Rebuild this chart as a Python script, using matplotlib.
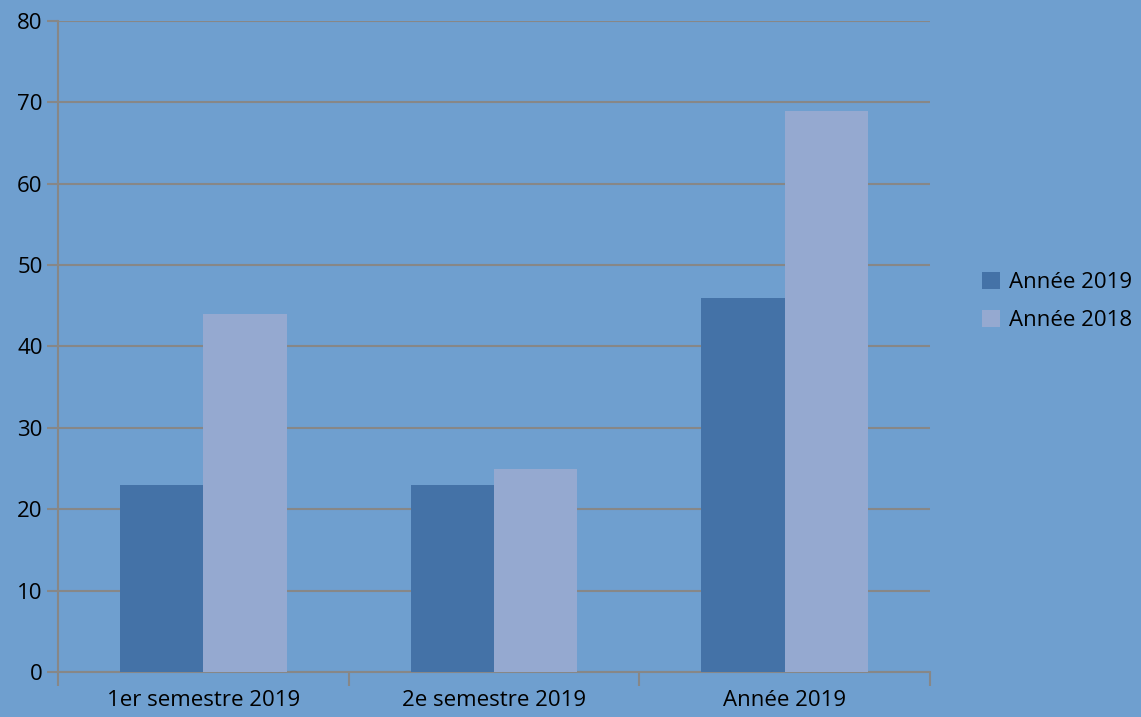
import matplotlib
matplotlib.use("Agg")
import matplotlib.pyplot as plt
import numpy as np

categories = ["1er semestre 2019", "2e semestre 2019", "Année 2019"]
series_names = ["Année 2019", "Année 2018"]
values_2019 = [23, 23, 46]
values_2018 = [44, 25, 69]
yticks = [0, 10, 20, 30, 40, 50, 60, 70, 80]

bg = "#6f9fcf"
c2019 = "#4472a7"
c2018 = "#95a9d0"
grid = "#878787"

plt.rcParams['font.family'] = ['Open Sans', 'DejaVu Sans']
fs = 16

fig = plt.figure(figsize=(11.41, 7.17), dpi=100, facecolor=bg)
ax = fig.add_axes([58/1141, 1-672/717, (930-58)/1141, (672-21)/717])
ax.set_facecolor(bg)

x = np.arange(len(categories))
w = 0.287
ax.bar(x - w/2, values_2019, w, color=c2019, label=series_names[0], zorder=3)
ax.bar(x + w/2, values_2018, w, color=c2018, label=series_names[1], zorder=3)

ax.set_xlim(-0.5, len(categories) - 0.5)
ax.set_ylim(0, 80)
ax.set_yticks(yticks)
ax.set_yticklabels([str(v) for v in yticks], fontsize=fs, color="black")
ax.yaxis.grid(True, color=grid, linewidth=1.5, zorder=0)
ax.set_axisbelow(True)

ax.set_xticks(x)
ax.set_xticklabels(categories, fontsize=fs, color="black")
ax.set_xticks(np.arange(-0.5, len(categories)), minor=True)
ax.tick_params(axis='x', which='major', length=0, pad=13)
ax.tick_params(axis='x', which='minor', length=10, width=1.5, color=grid)
ax.tick_params(axis='y', length=8, width=1.5, color=grid, pad=3)

for s in ["top", "right"]:
    ax.spines[s].set_visible(False)
for s in ["left", "bottom"]:
    ax.spines[s].set_color(grid)
    ax.spines[s].set_linewidth(1.5)

leg = fig.legend(loc="upper left", bbox_to_anchor=(982/1141, 1-272/717),
                 frameon=False, fontsize=fs, handlelength=0.8, handleheight=0.8,
                 handletextpad=0.4, labelspacing=0.76, borderaxespad=0, borderpad=0)

fig.savefig("out.png", dpi=100, facecolor=bg)
